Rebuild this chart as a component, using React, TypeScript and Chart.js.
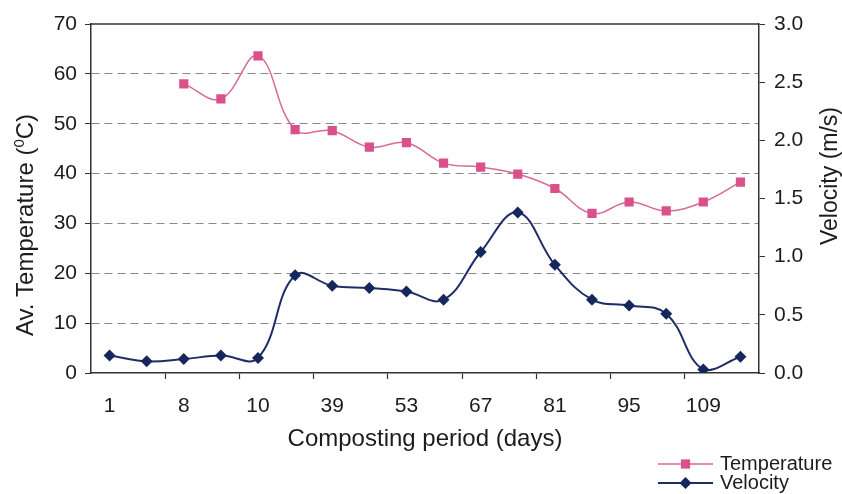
import React, { useEffect, useRef } from 'react';
import { Chart, registerables } from 'chart.js';

Chart.register(...registerables);

// ---- data ----
const dayLabels = ['1', '', '8', '', '10', '', '39', '', '53', '', '67', '', '81', '', '95', '', '109', ''];
const temperature = [null, null, 58, 55, 63.6, 48.8, 48.6, 45.3, 46.2, 42.1, 41.3, 39.9, 37, 32, 34.3, 32.5, 34.3, 38.3];
const velocity = [0.15, 0.1, 0.12, 0.15, 0.13, 0.84, 0.75, 0.73, 0.7, 0.63, 1.04, 1.38, 0.93, 0.63, 0.58, 0.51, 0.03, 0.14];
const tempAxis = { min: 0, max: 70, step: 10 };
const velAxis = { min: 0, max: 3, step: 0.5 };
const xTitle = 'Composting period (days)';
const leftTitleParts = ['Av. Temperature (', '0', 'C)'];
const rightTitle = 'Velocity (m/s)';
const seriesNames = ['Temperature', 'Velocity'];

const FONT = "'Liberation Sans', Arial, sans-serif";
const TEXT = '#1c1c1c';
const PINK_LINE = '#d86a98';
const PINK_PT = '#d9508a';
const NAVY_LINE = '#1f2d66';
const NAVY_PT = '#15275c';

function drawMarker(ctx: CanvasRenderingContext2D, style: string, x: number, y: number, r: number, color: string) {
  ctx.fillStyle = color;
  ctx.beginPath();
  if (style === 'rect') {
    const s = Math.SQRT1_2 * r;
    ctx.rect(x - s, y - s, 2 * s, 2 * s);
  } else {
    ctx.moveTo(x - r, y);
    ctx.lineTo(x, y - r);
    ctx.lineTo(x + r, y);
    ctx.lineTo(x, y + r);
    ctx.closePath();
  }
  ctx.fill();
}

const decorPlugin = {
  id: 'decor',
  afterDraw(chart: any) {
    const { ctx, chartArea } = chart;
    ctx.save();
    // top frame line
    ctx.strokeStyle = '#333';
    ctx.lineWidth = 1.5;
    ctx.beginPath();
    ctx.moveTo(chartArea.left, chartArea.top);
    ctx.lineTo(chartArea.right, chartArea.top);
    ctx.stroke();

    // left axis title (with superscript 0)
    ctx.fillStyle = TEXT;
    ctx.textBaseline = 'alphabetic';
    ctx.textAlign = 'left';
    const big = `24px ${FONT}`;
    const small = `15px ${FONT}`;
    ctx.font = big;
    const w1 = ctx.measureText(leftTitleParts[0]).width;
    const w3 = ctx.measureText(leftTitleParts[2]).width;
    ctx.font = small;
    const w2 = ctx.measureText(leftTitleParts[1]).width;
    const total = w1 + w2 + w3;
    ctx.save();
    ctx.translate(25, 225);
    ctx.rotate(-Math.PI / 2);
    let x0 = -total / 2;
    const base = 8.3;
    ctx.font = big;
    ctx.fillText(leftTitleParts[0], x0, base);
    ctx.font = small;
    ctx.fillText(leftTitleParts[1], x0 + w1, base - 9);
    ctx.font = big;
    ctx.fillText(leftTitleParts[2], x0 + w1 + w2, base);
    ctx.restore();

    // right axis title
    ctx.save();
    ctx.translate(831, 176);
    ctx.rotate(-Math.PI / 2);
    ctx.font = `23px ${FONT}`;
    ctx.textAlign = 'center';
    ctx.textBaseline = 'middle';
    ctx.fillText(rightTitle, 0, 0);
    ctx.restore();

    // legend
    const ds = chart.data.datasets;
    ds.forEach((d: any, i: number) => {
      const y = 464 + i * 19;
      ctx.strokeStyle = d.borderColor;
      ctx.lineWidth = d.borderWidth;
      ctx.beginPath();
      ctx.moveTo(658, y);
      ctx.lineTo(713, y);
      ctx.stroke();
      drawMarker(ctx, d.pointStyle, 685.5, y, d.pointRadius, d.pointBackgroundColor);
      ctx.fillStyle = TEXT;
      ctx.font = `20px ${FONT}`;
      ctx.textAlign = 'left';
      ctx.textBaseline = 'middle';
      ctx.fillText(d.label, 720, y);
    });
    ctx.restore();
  },
};

export default function App() {
  const ref = useRef<HTMLCanvasElement | null>(null);
  useEffect(() => {
    document.body.style.margin = '0';
    document.body.style.overflow = 'hidden';
    const canvas = ref.current!;
    const chart = new Chart(canvas, {
      type: 'line',
      data: {
        labels: dayLabels,
        datasets: [
          {
            label: seriesNames[0],
            data: temperature,
            yAxisID: 'y',
            borderColor: PINK_LINE,
            borderWidth: 1.5,
            pointStyle: 'rect',
            pointRadius: 6.5,
            pointBackgroundColor: PINK_PT,
            pointBorderColor: PINK_PT,
            pointBorderWidth: 0,
            tension: 0.4,
            fill: false,
          },
          {
            label: seriesNames[1],
            data: velocity,
            yAxisID: 'y1',
            borderColor: NAVY_LINE,
            borderWidth: 2,
            pointStyle: 'rectRot',
            pointRadius: 6,
            pointBackgroundColor: NAVY_PT,
            pointBorderColor: NAVY_PT,
            pointBorderWidth: 0,
            tension: 0.4,
            fill: false,
          },
        ],
      },
      options: {
        responsive: false,
        animation: false,
        devicePixelRatio: 1,
        layout: { padding: { top: 24, left: 0, right: 0, bottom: 40 } },
        plugins: { legend: { display: false }, tooltip: { enabled: false } },
        scales: {
          x: {
            type: 'category',
            offset: true,
            border: { display: true, color: '#333', width: 1.5 },
            grid: {
              offset: true,
              drawOnChartArea: false,
              drawTicks: true,
              tickLength: 6,
              tickColor: (c: any) => (typeof c.index === 'number' && c.index > 0 && c.index % 2 === 0 ? '#333' : 'rgba(0,0,0,0)'),
              tickWidth: 1.2,
            },
            ticks: {
              autoSkip: false,
              maxRotation: 0,
              minRotation: 0,
              padding: 15,
              color: TEXT,
              font: { family: FONT, size: 21 },
            },
            title: {
              display: true,
              text: xTitle,
              color: TEXT,
              font: { family: FONT, size: 24, lineHeight: 1 },
              padding: { top: 0, bottom: 3 },
            },
            afterFit: (s: any) => {
              s.height = 81;
            },
          },
          y: {
            position: 'left',
            min: tempAxis.min,
            max: tempAxis.max,
            border: { display: true, color: '#333', width: 1.5, dash: [] },
            grid: {
              drawOnChartArea: true,
              color: (c: any) => (c.tick && (c.tick.value === tempAxis.min || c.tick.value === tempAxis.max) ? 'rgba(0,0,0,0)' : '#8a8a8a'),
              lineWidth: 1,
              tickLength: 6,
              tickColor: '#333',
              tickBorderDash: [],
            },
            border2: undefined,
            ticks: {
              stepSize: tempAxis.step,
              padding: 8,
              color: TEXT,
              font: { family: FONT, size: 21 },
            },
            afterFit: (s: any) => {
              s.width = 91;
            },
          } as any,
          y1: {
            position: 'right',
            min: velAxis.min,
            max: velAxis.max,
            border: { display: true, color: '#333', width: 1.5 },
            grid: { drawOnChartArea: false, tickLength: 6, tickColor: '#333' },
            ticks: {
              stepSize: velAxis.step,
              padding: 9,
              color: TEXT,
              font: { family: FONT, size: 21 },
              callback: (v: any) => Number(v).toFixed(1),
            },
            afterFit: (s: any) => {
              s.width = 83;
            },
          },
        },
      },
      plugins: [decorPlugin],
    } as any);
    // dashed grid on left axis
    (chart.options.scales as any).y.border.dash = [8, 5];
    chart.update();
    return () => chart.destroy();
  }, []);
  return (
    <div style={{ width: 842, height: 494 }}>
      <canvas ref={ref} width={842} height={494} style={{ display: 'block' }} />
    </div>
  );
}
